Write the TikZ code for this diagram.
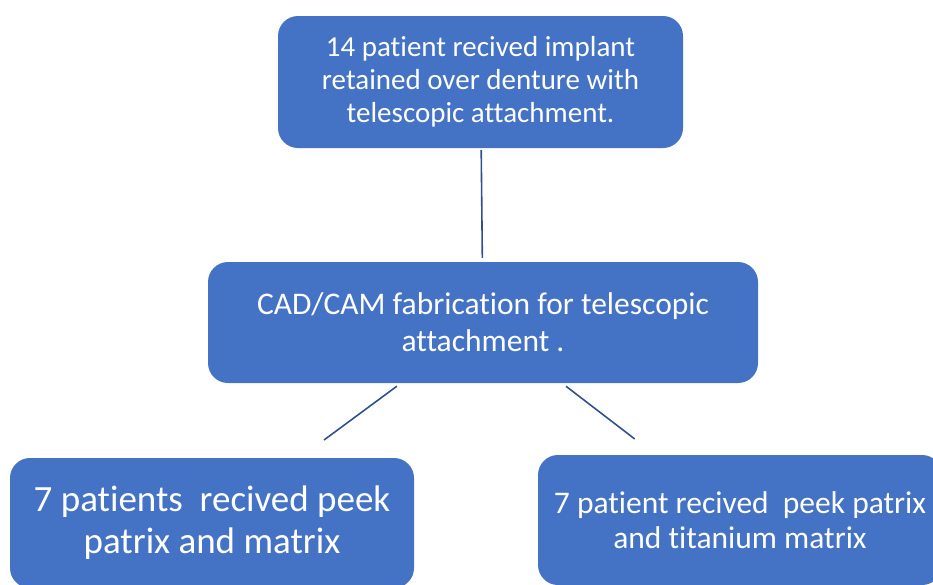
\documentclass[tikz,border=0pt]{standalone}
\usepackage{fontspec}
\setmainfont[Ligatures=NoCommon]{Carlito}
\usetikzlibrary{positioning}
\definecolor{boxblue}{RGB}{68,114,196}
\definecolor{linkblue}{RGB}{47,82,143}

\begin{document}
\begin{tikzpicture}[x=1pt, y=-1pt,
    stage/.style={rounded corners=20pt, fill=boxblue, text=white, align=center, inner sep=0pt},
    link/.style={draw=linkblue, line width=1.6pt}]
    \useasboundingbox (0,0) rectangle (933,584);

    \node[stage, minimum width=405pt, minimum height=132pt, font=\fontsize{29}{33}\selectfont] (implant) at (480.5,82) {14 patient recived implant\\retained over denture with\\telescopic attachment.};
    \node[stage, minimum width=550pt, minimum height=121pt, font=\fontsize{31.5}{37}\selectfont] (cadcam) at (483,322.5) {CAD/CAM fabrication for telescopic\\attachment .};
    \node[stage, minimum width=404pt, minimum height=130pt, font=\fontsize{37}{42}\selectfont] (peek) at (212,523) {7 patients~ recived peek\\patrix and matrix};
    \node[stage, minimum width=404pt, minimum height=130pt, font=\fontsize{31.5}{35}\selectfont] (titan) at (740,520) {7 patient recived~ peek patrix\\and titanium matrix};

    \draw[link, shorten <=2pt, shorten >=4pt] (implant) -- (cadcam);
    \draw[link, shorten <=5pt, shorten >=30pt] (cadcam) -- (peek);
    \draw[link, shorten <=5pt, shorten >=26pt] (cadcam) -- (titan);
\end{tikzpicture}
\end{document}
